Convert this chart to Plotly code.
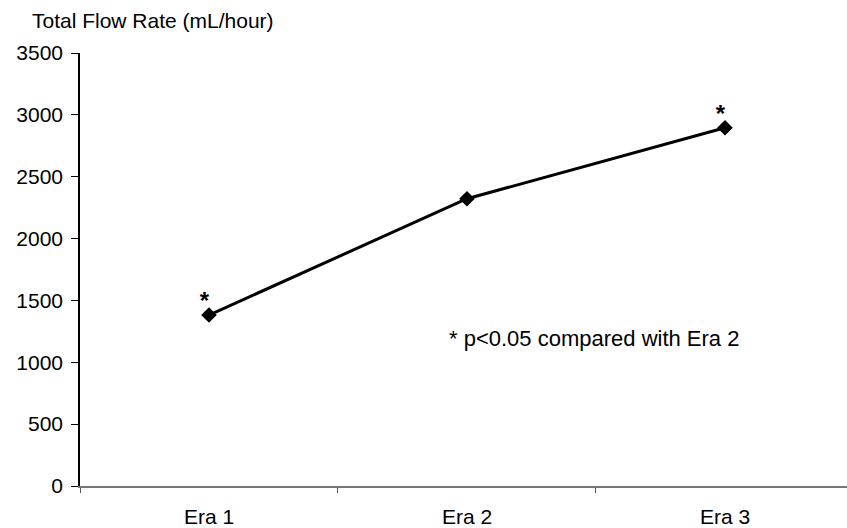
import plotly.graph_objects as go

categories = ["Era 1", "Era 2", "Era 3"]
flow_rate = [1382, 2322, 2896]
significant = [True, False, True]
y_ticks = [0, 500, 1000, 1500, 2000, 2500, 3000, 3500]

FONT = "Liberation Sans, Arial, sans-serif"

fig = go.Figure()
fig.add_trace(go.Scatter(
    x=categories, y=flow_rate, mode="lines+markers",
    line=dict(color="black", width=3),
    marker=dict(symbol="diamond", size=12, color="black"),
    showlegend=False,
))

star_x = [c for c, s in zip(categories, significant) if s]
star_y = [v for v, s in zip(flow_rate, significant) if s]
fig.add_trace(go.Scatter(
    x=star_x, y=star_y, mode="text", text=["<b>*</b>"] * len(star_x),
    textposition="top left",
    textfont=dict(family=FONT, size=24, color="black"),
    showlegend=False, hoverinfo="skip",
))

fig.update_layout(
    width=847, height=528,
    margin=dict(l=80, r=0, t=53, b=42),
    plot_bgcolor="white", paper_bgcolor="white",
    font=dict(family=FONT, size=21, color="black"),
    xaxis=dict(
        type="category", range=[-0.5, 2.473],
        showline=True, linecolor="#777777", linewidth=2,
        ticks="outside", tickson="boundaries", ticklen=5, tickcolor="#555555",
        showgrid=False, zeroline=False, ticklabelstandoff=11,
    ),
    yaxis=dict(
        range=[0, 3500], tickvals=y_ticks,
        showline=True, linecolor="black", linewidth=1.5,
        ticks="outside", ticklen=7, tickcolor="black",
        showgrid=False, zeroline=False, ticklabelstandoff=4,
    ),
    annotations=[
        dict(text="Total Flow Rate (mL/hour)", xref="paper", yref="paper",
             x=-0.065, y=1.0, xanchor="left", yanchor="bottom", yshift=19,
             showarrow=False, font=dict(family=FONT, size=21, color="black")),
        dict(text="* p<0.05 compared with Era 2", xref="paper", yref="y",
             x=0.479, y=1190, xanchor="left", yanchor="middle",
             showarrow=False, font=dict(family=FONT, size=22, color="black")),
    ],
)

fig.write_html("out.html")
